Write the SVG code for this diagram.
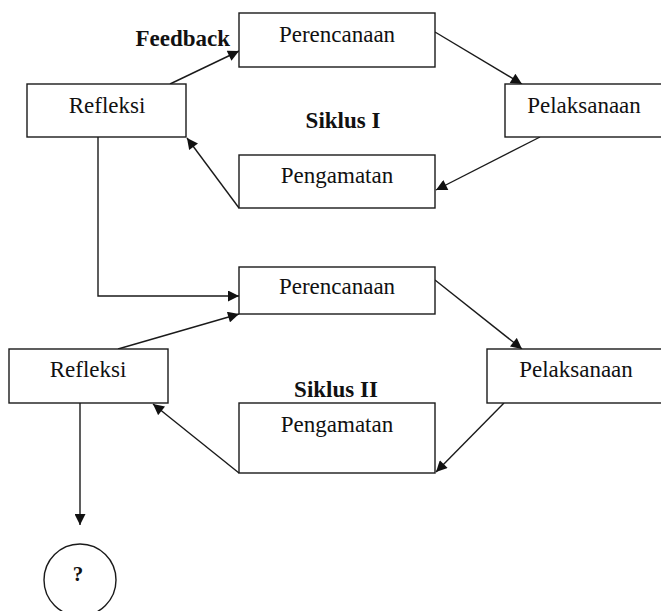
<svg xmlns="http://www.w3.org/2000/svg" width="661" height="611" viewBox="0 0 661 611">
<defs>
<style>
.box{fill:#fff;stroke:#1a1a1a;stroke-width:1.4}
.t{font-family:"Liberation Serif","Times New Roman",serif;font-size:23px;fill:#111;text-anchor:middle}
.b{font-family:"Liberation Serif","Times New Roman",serif;font-size:23px;font-weight:bold;fill:#111}
.c{fill:none;stroke:#1a1a1a;stroke-width:1.4}
</style>
<marker id="ah" viewBox="0 0 10 10" refX="10" refY="5" markerWidth="13" markerHeight="11" markerUnits="userSpaceOnUse" orient="auto">
<path d="M0,0 L10,5 L0,10 z" fill="#111"/>
</marker>
</defs>
<rect width="661" height="611" fill="#fff"/>
<g id="connectors">
<line class="c" x1="170" y1="84" x2="239" y2="51" marker-end="url(#ah)"/>
<line class="c" x1="435" y1="32" x2="522" y2="84" marker-end="url(#ah)"/>
<line class="c" x1="540" y1="137" x2="436" y2="190" marker-end="url(#ah)"/>
<line class="c" x1="239" y1="208" x2="187" y2="138" marker-end="url(#ah)"/>
<polyline class="c" points="98,137 98,296 239,296" marker-end="url(#ah)"/>
<line class="c" x1="118" y1="349" x2="239" y2="314" marker-end="url(#ah)"/>
<line class="c" x1="435" y1="280" x2="522" y2="349" marker-end="url(#ah)"/>
<line class="c" x1="504" y1="403" x2="436" y2="472" marker-end="url(#ah)"/>
<line class="c" x1="239" y1="473" x2="153" y2="404" marker-end="url(#ah)"/>
<line class="c" x1="80" y1="403" x2="80" y2="525" marker-end="url(#ah)"/>
</g>
<g id="perencanaan1"><rect class="box" x="239" y="13" width="196" height="54"/><text class="t" x="337" y="42">Perencanaan</text></g>
<g id="refleksi1"><rect class="box" x="27" y="84" width="159" height="53"/><text class="t" x="107" y="113">Refleksi</text></g>
<g id="pelaksanaan1"><rect class="box" x="505" y="84" width="160" height="53"/><text class="t" x="584" y="113">Pelaksanaan</text></g>
<g id="pengamatan1"><rect class="box" x="239" y="155" width="196" height="53"/><text class="t" x="337" y="183">Pengamatan</text></g>
<g id="feedback-label"><text class="b" x="230" y="46" text-anchor="end">Feedback</text></g>
<g id="siklus1-label"><text class="b" x="343" y="128" text-anchor="middle">Siklus I</text></g>
<g id="perencanaan2"><rect class="box" x="239" y="267" width="196" height="47"/><text class="t" x="337" y="294">Perencanaan</text></g>
<g id="refleksi2"><rect class="box" x="9" y="349" width="159" height="54"/><text class="t" x="88" y="377">Refleksi</text></g>
<g id="pelaksanaan2"><rect class="box" x="487" y="349" width="178" height="54"/><text class="t" x="576" y="377">Pelaksanaan</text></g>
<g id="siklus2-label"><text class="b" x="336" y="397" text-anchor="middle">Siklus II</text></g>
<g id="pengamatan2"><rect class="box" x="239" y="403" width="196" height="70"/><text class="t" x="337" y="432">Pengamatan</text></g>
<g id="result"><circle class="box" cx="80" cy="580" r="36"/><text class="b" x="78" y="581" text-anchor="middle" style="font-size:21px">?</text></g>
</svg>
